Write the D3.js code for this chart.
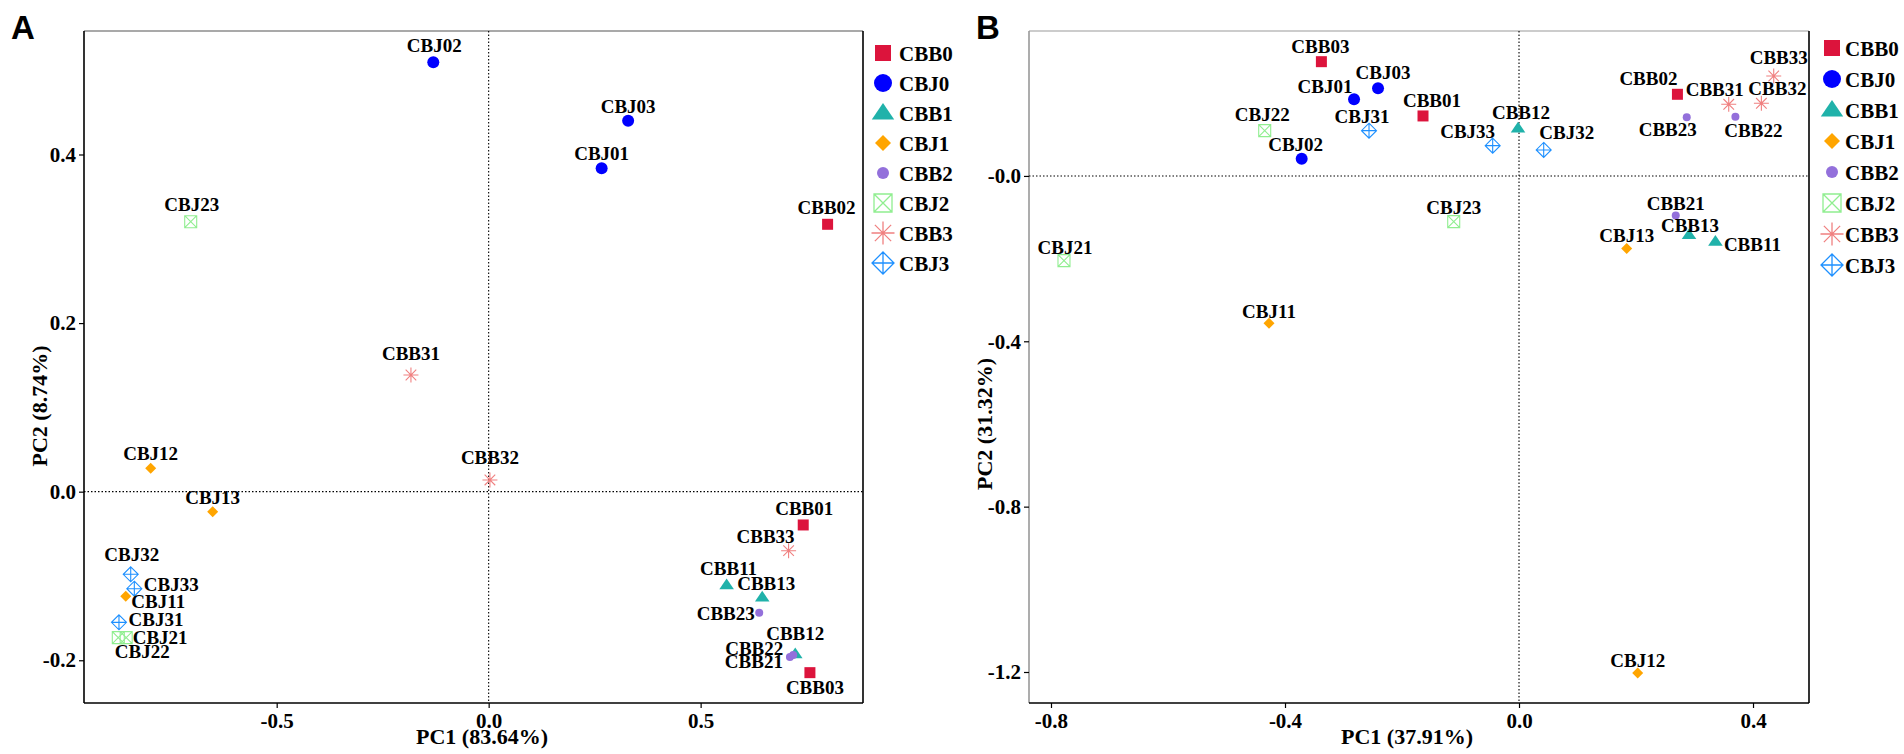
<!DOCTYPE html>
<html><head><meta charset="utf-8">
<script src="https://cdn.jsdelivr.net/npm/d3@7"></script>
<style>
body{margin:0;background:#fff}
svg{display:block}
text{font-family:"Liberation Serif","Times New Roman",serif;font-weight:bold;fill:#000}
</style>
</head><body>
<svg id="chart" width="1904" height="754"></svg>
<script>
// ---------------- DATA ----------------
const samples = ["CBB01","CBB02","CBB03","CBJ01","CBJ02","CBJ03",
                 "CBB11","CBB12","CBB13","CBJ11","CBJ12","CBJ13",
                 "CBB21","CBB22","CBB23","CBJ21","CBJ22","CBJ23",
                 "CBB31","CBB32","CBB33","CBJ31","CBJ32","CBJ33"];
const groups = ["CBB0","CBJ0","CBB1","CBJ1","CBB2","CBJ2","CBB3","CBJ3"];

// Panel A
const pc1A = [0.742, 0.7995, 0.7578, 0.2665, -0.1306, 0.329,
              0.5613, 0.7232, 0.6453, -0.856, -0.7972, -0.651,
              0.7106, 0.7184, 0.6382, -0.855, -0.8736, -0.7028,
              -0.1833, 0.003, 0.7075, -0.872, -0.8443, -0.8358];
const pc2A = [-0.0395, 0.3172, -0.2147, 0.3836, 0.5093, 0.440,
              -0.1107, -0.1925, -0.1253, -0.1241, 0.0277, -0.0237,
              -0.1962, -0.1937, -0.1435, -0.1732, -0.1732, 0.3203,
              0.1384, 0.0139, -0.070, -0.155, -0.098, -0.1151];
// Panel B
const pc1B = [-0.1641, 0.2708, -0.3378, -0.282, -0.3715, -0.241,
              0.3357, -0.0017, 0.2906, -0.4274, 0.2029, 0.1841,
              0.2679, 0.3699, 0.2867, -0.7778, -0.4347, -0.1116,
              0.3585, 0.4143, 0.4354, -0.2564, 0.0422, -0.045];
const pc2B = [0.1451, 0.1975, 0.2764, 0.1854, 0.0418, 0.212,
              -0.1588, 0.1153, -0.1426, -0.3562, -1.2024, -0.1757,
              -0.096, 0.1434, 0.1419, -0.2048, 0.1095, -0.1105,
              0.1733, 0.1757, 0.2418, 0.1095, 0.0629, 0.0733];

const xTicksA = [-0.5, 0, 0.5], xTickLabelsA = ["-0.5","0.0","0.5"];
const yTicksA = [-0.2, 0, 0.2, 0.4], yTickLabelsA = ["-0.2","0.0","0.2","0.4"];
const xTicksB = [-0.8, -0.4, 0, 0.4], xTickLabelsB = ["-0.8","-0.4","0.0","0.4"];
const yTicksB = [-1.2, -0.8, -0.4, 0], yTickLabelsB = ["-1.2","-0.8","-0.4","-0.0"];
const titlesA = ["PC1 (83.64%)", "PC2 (8.74%)"];
const titlesB = ["PC1 (37.91%)", "PC2 (31.32%)"];

// ---------------- STYLE / LAYOUT ----------------
const groupColors = ["#DC143C","#0000FF","#20B2AA","#FFA500","#9370DB","#90EE90","#F08080","#1E90FF"];
const groupShapes = ["square","circle","triangle","diamond","dot","boxX","asterisk","diamondPlus"];
const plotSize = {square:5.5, circle:6, triangle:6.5, diamond:5.5, dot:4, boxX:6, asterisk:7.5, diamondPlus:7.5};
const legendSize = {square:8, circle:9, triangle:10, diamond:8, dot:6, boxX:9, asterisk:11.5, diamondPlus:11};

// label offsets [dx, dy] (text centre / baseline relative to point)
const labelOffA = [[1,-10],[-1,-10],[5,21],[0,-8],[1,-10],[0,-8],
                   [2,-10],[0,-14],[4,-7],[32.5,12],[0,-8],[0,-8],
                   [-36,11],[-39,0],[-33.5,7],[34,6],[24,20],[1,-11],
                   [0,-15],[0,-16],[-23,-8],[37,4],[1,-13],[37,2]];
const labelOffB = [[9,-9],[-29,-9],[-1,-9],[-29,-6],[-6,-8],[5,-9],
                   [37,9],[3,-9],[1,-3],[0,-5],[0,-6],[0,-7],
                   [0,-6],[18,20],[-19,19],[1,-7],[-2.5,-10],[0,-8],
                   [-14,-8],[16,-8],[5,-12],[-7,-8],[23,-11],[-25,-8]];

const svg = d3.select("#chart");

function shapePath(type, s) {
  const p = d3.path();
  switch (type) {
    case "square": p.rect(-s, -s, 2*s, 2*s); break;
    case "circle":
    case "dot": p.moveTo(s, 0); p.arc(0, 0, s, 0, 2*Math.PI); break;
    case "triangle": p.moveTo(0, -s); p.lineTo(s*1.12, s*0.65); p.lineTo(-s*1.12, s*0.65); p.closePath(); break;
    case "diamond": p.moveTo(0, -s); p.lineTo(s, 0); p.lineTo(0, s); p.lineTo(-s, 0); p.closePath(); break;
    case "boxX":
      p.rect(-s, -s, 2*s, 2*s);
      p.moveTo(-s, -s); p.lineTo(s, s); p.moveTo(s, -s); p.lineTo(-s, s); break;
    case "asterisk": {
      const d = s*Math.SQRT1_2;
      p.moveTo(-s, 0); p.lineTo(s, 0); p.moveTo(0, -s); p.lineTo(0, s);
      p.moveTo(-d, -d); p.lineTo(d, d); p.moveTo(d, -d); p.lineTo(-d, d); break;
    }
    case "diamondPlus":
      p.moveTo(0, -s); p.lineTo(s, 0); p.lineTo(0, s); p.lineTo(-s, 0); p.closePath();
      p.moveTo(-s, 0); p.lineTo(s, 0); p.moveTo(0, -s); p.lineTo(0, s); break;
  }
  return p.toString();
}
const filled = t => ["square","circle","triangle","diamond","dot"].includes(t);

function drawPanel(cfg) {
  const g = svg.append("g");
  const x = d3.scaleLinear().domain(cfg.xDomain).range([cfg.left, cfg.right]);
  const y = d3.scaleLinear().domain(cfg.yDomain).range([cfg.bottom, cfg.top]);

  // frame
  g.append("line").attr("x1", cfg.left).attr("x2", cfg.right).attr("y1", cfg.top).attr("y2", cfg.top)
    .attr("stroke", cfg.topColor).attr("stroke-width", 1.2);
  g.append("line").attr("x1", cfg.right).attr("x2", cfg.right).attr("y1", cfg.top).attr("y2", cfg.bottom)
    .attr("stroke", "#000").attr("stroke-width", 1.6);
  g.append("line").attr("x1", cfg.left).attr("x2", cfg.left).attr("y1", cfg.top).attr("y2", cfg.bottom)
    .attr("stroke", cfg.leftColor).attr("stroke-width", 1.6);
  g.append("line").attr("x1", cfg.left).attr("x2", cfg.right).attr("y1", cfg.bottom).attr("y2", cfg.bottom)
    .attr("stroke", "#000").attr("stroke-width", 1.6);

  // dotted zero lines
  g.append("line").attr("x1", x(0)).attr("x2", x(0)).attr("y1", cfg.top).attr("y2", cfg.bottom)
    .attr("stroke", "#000").attr("stroke-width", 1.1).attr("stroke-dasharray", "1.5,2");
  g.append("line").attr("x1", cfg.left).attr("x2", cfg.right).attr("y1", y(0)).attr("y2", y(0))
    .attr("stroke", "#000").attr("stroke-width", 1.1).attr("stroke-dasharray", "1.5,2");

  // axes
  const xa = g.append("g").attr("transform", `translate(0,${cfg.bottom})`)
    .call(d3.axisBottom(x).tickValues(cfg.xTicks).tickFormat((d, i) => cfg.xLabels[i]).tickSize(5).tickPadding(5));
  const ya = g.append("g").attr("transform", `translate(${cfg.left},0)`)
    .call(d3.axisLeft(y).tickValues(cfg.yTicks).tickFormat((d, i) => cfg.yLabels[i]).tickSize(5).tickPadding(3));
  [xa, ya].forEach(a => {
    a.select(".domain").remove();
    a.selectAll(".tick line").attr("stroke", "#000").attr("stroke-width", 1.2);
    a.selectAll(".tick text").style("font-family", '"Liberation Serif","Times New Roman",serif')
      .style("font-weight", "bold").style("font-size", "21px").attr("fill", "#000");
  });

  // axis titles
  g.append("text").attr("x", cfg.xTitlePos[0]).attr("y", cfg.xTitlePos[1]).attr("text-anchor", "middle")
    .style("font-size", "22px").text(cfg.titles[0]);
  g.append("text").attr("transform", `translate(${cfg.yTitlePos[0]},${cfg.yTitlePos[1]}) rotate(-90)`)
    .attr("text-anchor", "middle").style("font-size", "22px").text(cfg.titles[1]);

  // panel letter
  g.append("text").attr("x", cfg.letterPos[0]).attr("y", cfg.letterPos[1])
    .style("font-family", '"Liberation Sans",Arial,sans-serif').style("font-size", "33px").text(cfg.letter);

  // points
  const pts = samples.map((s, i) => {
    const gi = groups.indexOf(s.slice(0, 4));
    return {name: s, x: cfg.pc1[i], y: cfg.pc2[i], gi, off: cfg.offs[i]};
  });
  const pg = g.append("g");
  pg.selectAll("path").data(pts).join("path")
    .attr("transform", d => `translate(${x(d.x)},${y(d.y)})`)
    .attr("d", d => shapePath(groupShapes[d.gi], plotSize[groupShapes[d.gi]]))
    .attr("fill", d => filled(groupShapes[d.gi]) ? groupColors[d.gi] : "none")
    .attr("stroke", d => filled(groupShapes[d.gi]) ? "none" : groupColors[d.gi])
    .attr("stroke-width", 1.1);
  g.append("g").selectAll("text").data(pts).join("text")
    .attr("x", d => x(d.x) + d.off[0]).attr("y", d => y(d.y) + d.off[1])
    .attr("text-anchor", "middle").style("font-size", "19px").text(d => d.name);

  // legend
  const lg = g.append("g");
  groups.forEach((name, i) => {
    const cy = cfg.legend.y0 + cfg.legend.dy * i;
    const t = groupShapes[i];
    lg.append("path").attr("transform", `translate(${cfg.legend.x},${cy})`)
      .attr("d", shapePath(t, legendSize[t]))
      .attr("fill", filled(t) ? groupColors[i] : "none")
      .attr("stroke", filled(t) ? "none" : groupColors[i]).attr("stroke-width", 1.3);
    lg.append("text").attr("x", cfg.legend.tx).attr("y", cy + 7.5).style("font-size", "21px").text(name);
  });
}

drawPanel({
  letter: "A", letterPos: [11, 39],
  left: 84, right: 863, top: 31, bottom: 703,
  xDomain: [-0.9545, 0.883], yDomain: [-0.2507, 0.5465],
  xTicks: xTicksA, xLabels: xTickLabelsA, yTicks: yTicksA, yLabels: yTickLabelsA,
  titles: titlesA, xTitlePos: [482, 744], yTitlePos: [47, 406],
  pc1: pc1A, pc2: pc2A, offs: labelOffA,
  topColor: "#555", leftColor: "#000",
  legend: {x: 883, tx: 899, y0: 53, dy: 30}
});
drawPanel({
  letter: "B", letterPos: [976, 39],
  left: 1029, right: 1809, top: 31, bottom: 703,
  xDomain: [-0.8376, 0.4957], yDomain: [-1.275, 0.3506],
  xTicks: xTicksB, xLabels: xTickLabelsB, yTicks: yTicksB, yLabels: yTickLabelsB,
  titles: titlesB, xTitlePos: [1407, 744], yTitlePos: [992, 424],
  pc1: pc1B, pc2: pc2B, offs: labelOffB,
  topColor: "#999", leftColor: "#999",
  legend: {x: 1832, tx: 1845, y0: 48, dy: 31}
});
</script>
</body></html>
